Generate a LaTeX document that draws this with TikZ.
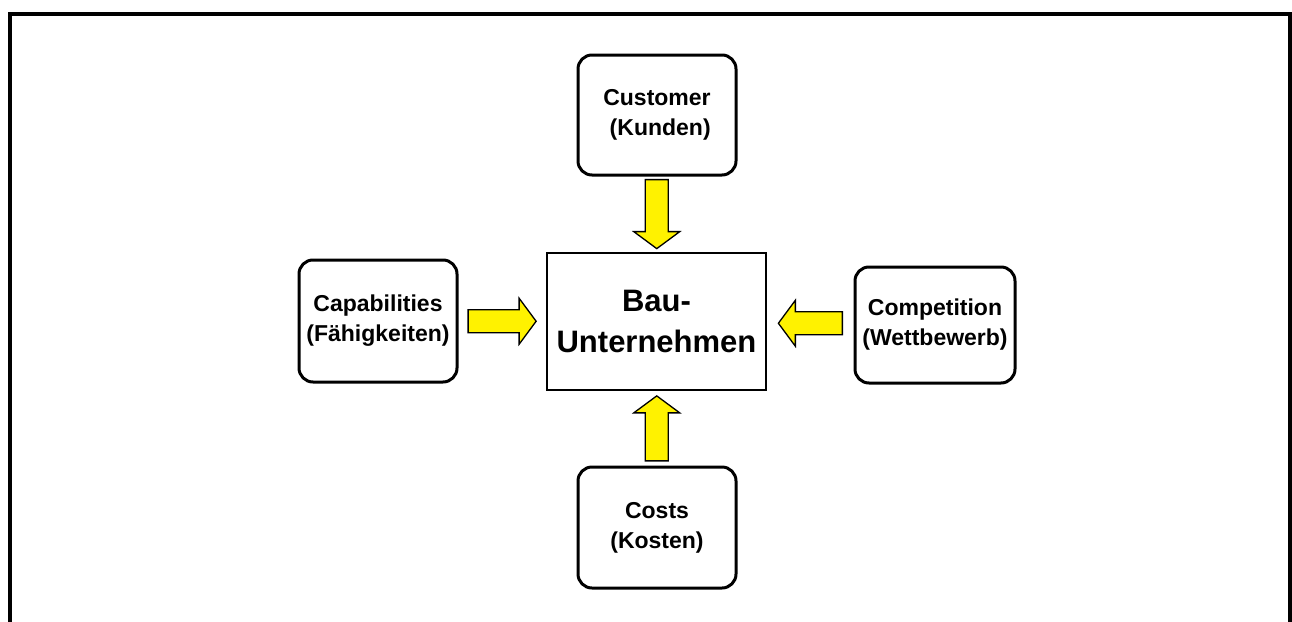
\documentclass[tikz,border=0pt]{standalone}
\usepackage{fontspec}
\setmainfont{Liberation Sans}
\usetikzlibrary{calc}
\begin{document}
\begin{tikzpicture}[x=1pt,y=1pt,
  factor/.style={draw=black, line width=3pt, rounded corners=14pt, fill=white, inner sep=0pt,
    align=center, font=\fontsize{23}{30}\selectfont\bfseries},
  center/.style={draw=black, line width=2.5pt, fill=white, inner sep=0pt,
    align=center, font=\fontsize{31}{41}\selectfont\bfseries},
  arrowstyle/.style={draw=black, line width=1.3pt, fill=yellow, line join=miter},
  pics/barrow/.style={code={
    \draw[arrowstyle] (-#1/2,-11.5) -- (#1/2-17,-11.5) -- (#1/2-17,-23) -- (#1/2,0)
      -- (#1/2-17,23) -- (#1/2-17,11.5) -- (-#1/2,11.5) -- cycle;}}
]
\useasboundingbox (0,0) rectangle (1292,-621);
\draw[line width=4pt, line join=miter] (10,-640) -- (10,-14) -- (1290,-14) -- (1290,-640);

\node[center, minimum width=219pt, minimum height=137pt] (bau) at (656.5,-321.5) {Bau-\\Unternehmen};
\node[factor, minimum width=158pt, minimum height=120pt] (cust) at (657,-115) {Customer\\\ (Kunden)};
\node[factor, minimum width=158pt, minimum height=122pt] (cap) at (378,-321) {Capabilities\\(Fähigkeiten)};
\node[factor, minimum width=160pt, minimum height=116pt] (comp) at (935,-325) {Competition\\(Wettbewerb)};
\node[factor, minimum width=158pt, minimum height=121pt] (cost) at (657,-527.5) {Costs\\(Kosten)};

\path ($(cust.south)!0.5!(bau.north)$) pic[rotate=-90] {barrow=69};
\path ($(cost.north)!0.5!(bau.south)$) pic[rotate=90] {barrow=65};
\path ($(cap.east)!0.5!(bau.west)$) pic {barrow=68};
\path ($(comp.west)!0.5!(bau.east)$) pic[rotate=180] {barrow=64};
\end{tikzpicture}
\end{document}
